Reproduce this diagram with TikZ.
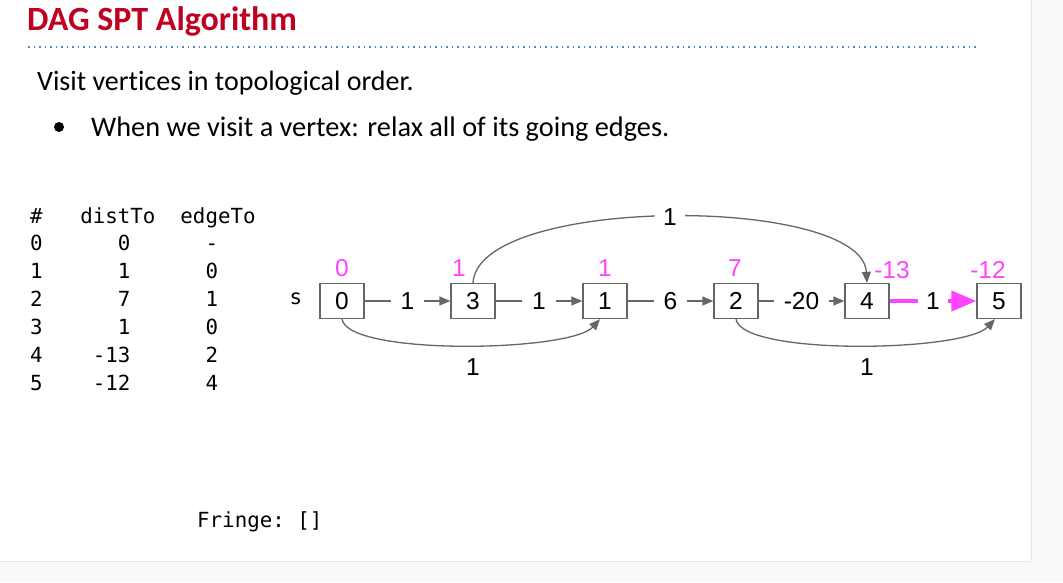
\documentclass[tikz,border=0pt]{standalone}
\usepackage{fontspec}
\setmainfont{Carlito}[Ligatures={TeX,NoCommon}]
\setsansfont{Liberation Sans}
\setmonofont{DejaVu Sans Mono}
\usetikzlibrary{arrows.meta,positioning}

\begin{document}
\begin{tikzpicture}[x=1pt,y=-1pt,
    vertex/.style={draw=edgegray, line width=1.3pt, minimum width=44pt, minimum height=35pt, inner sep=0pt, font=\sffamily\fontsize{24.5}{24.5}\selectfont},
    dist/.style={text=distpink, inner sep=0pt, font=\sffamily\fontsize{24.5}{24.5}\selectfont},
    wlabel/.style={fill=white, inner xsep=10pt, inner ysep=1pt, font=\sffamily\fontsize{24.5}{24.5}\selectfont},
    edge/.style={draw=edgegray, line width=1.3pt, -{Triangle[length=11pt,width=9pt]}},
    hot/.style={draw=distpink, line width=4pt, -{Triangle[length=25pt,width=20pt]}},
    row/.style={anchor=base west, inner sep=0pt, font=\ttfamily\fontsize{20.8}{20.8}\selectfont}]
    % Define colors for the slide
    \definecolor{titlered}{RGB}{192,0,32}
    \definecolor{distpink}{RGB}{255,68,255}
    \definecolor{edgegray}{RGB}{102,102,102}
    \definecolor{dotblue}{RGB}{74,134,200}
    \definecolor{pagegray}{RGB}{249,249,249}
    \definecolor{bordergray}{RGB}{230,230,230}

    % Slide background
    \useasboundingbox (0,0) rectangle (1063,582);
    \fill[pagegray] (0,0) rectangle (1063,582);
    \fill[white] (0,0) rectangle (1031,561);
    \draw[bordergray, line width=1pt] (1031,0) -- (1031,561) -- (0,561);

    % Title and text
    \node[anchor=base west, inner sep=0pt, text=titlered, font=\bfseries\fontsize{34}{34}\selectfont] (title) at (27,30) {DAG SPT Algorithm};
    \draw[dotblue, line width=1.6pt, dash pattern=on 1.6pt off 3.9pt] (28,47) -- (976,47);
    \node[anchor=base west, inner sep=0pt, font=\fontsize{28}{28}\selectfont] (visit) at (37,90) {Visit vertices in topological order.};
    \node[circle, fill=black, inner sep=0pt, minimum size=10pt] (bullet) at (59,127) {};
    \node[anchor=base west, inner sep=0pt, font=\fontsize{28.3}{28.3}\selectfont] (relax) at (91,136) {When we visit a vertex: relax all of its going edges.};

    % Table
    \node[row] (head) at (30,223) {\#~~~distTo~~edgeTo};
    \node[row] (r0) at (30,250) {0~~~~~~0~~~~~~-};
    \node[row] (r1) at (30,278) {1~~~~~~1~~~~~~0};
    \node[row] (r2) at (30,306) {2~~~~~~7~~~~~~1};
    \node[row] (r3) at (30,334) {3~~~~~~1~~~~~~0};
    \node[row] (r4) at (30,362) {4~~~~-13~~~~~~2};
    \node[row] (r5) at (30,390) {5~~~~-12~~~~~~4};
    \node[row] (fringe) at (197,527) {Fringe: []};

    % Vertices
    \node[font=\ttfamily\fontsize{20.8}{20.8}\selectfont] (s) at (296,299) {s};
    \node[vertex] (v0) at (342,301) {0};
    \node[vertex] (v3) at (473,301) {3};
    \node[vertex] (v1) at (605,301) {1};
    \node[vertex] (v2) at (736,301) {2};
    \node[vertex] (v4) at (867,301) {4};
    \node[vertex] (v5) at (999,301) {5};

    % distTo values
    \node[dist] (d0) at (342,268) {0};
    \node[dist] (d3) at (459,268) {1};
    \node[dist] (d1) at (605,268) {1};
    \node[dist] (d2) at (735,268) {7};
    \node[dist] (d4) at (892,270) {-13};
    \node[dist] (d5) at (988,270) {-12};

    % Edges
    \draw[edge] (v0) -- node[wlabel] (w03) {1} (v3);
    \draw[edge] (v3) -- node[wlabel] (w31) {1} (v1);
    \draw[edge] (v1) -- node[wlabel] (w12) {6} (v2);
    \draw[edge] (v2) -- node[wlabel] (w24) {-20} (v4);
    \draw[hot] (v4) -- node[wlabel, inner xsep=8pt] (w45) {1} (v5);
    \draw[edge] (v3.north) .. controls (478,195) and (862,195) .. node[wlabel, inner xsep=8pt] (w34) {1} (v4.north);
    \draw[edge] (v0.south) .. controls (348,356) and (570,352) .. node[pos=0.53, yshift=-22pt, font=\sffamily\fontsize{24.5}{24.5}\selectfont] (w01) {1} ([xshift=-5pt]v1.south);
    \draw[edge] (v2.south) .. controls (742,356) and (964,352) .. node[pos=0.53, yshift=-22pt, font=\sffamily\fontsize{24.5}{24.5}\selectfont] (w25) {1} ([xshift=-4pt]v5.south);

\end{tikzpicture}
\end{document}
